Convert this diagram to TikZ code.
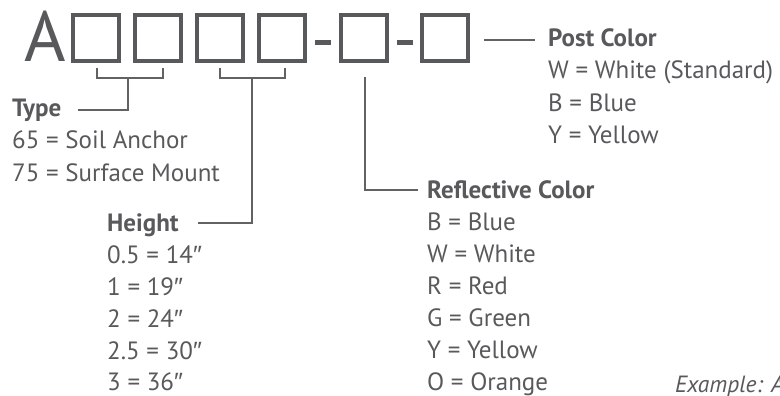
\documentclass[tikz,border=0pt]{standalone}
\usepackage{fontspec}
\setmainfont{PT Sans}
\newfontfamily\primefont{Liberation Sans}
\newcommand{\inch}{{\primefont ″}}
\definecolor{ink}{HTML}{58595B}
\definecolor{rule}{HTML}{616264}
\begin{document}
\begin{tikzpicture}[x=1pt,y=-1pt,
  sq/.style={draw=ink,line width=4pt,minimum size=46pt,inner sep=0pt},
  dashbar/.style={fill=ink,minimum width=16pt,minimum height=5pt,inner sep=0pt},
  lbl/.style={anchor=base west,inner sep=0pt,text=ink,font=\fontsize{25}{30}\selectfont},
  head/.style={lbl,font=\fontsize{25}{30}\selectfont\bfseries},
  conn/.style={draw=rule,line width=2.6pt}]
\useasboundingbox (0,0) rectangle (780,396);
% code row
\node[anchor=base west,inner sep=0pt,text=ink,font=\fontsize{71}{71}\selectfont] (A) at (24,62) {A};
\node[sq] (s1) at (96,38) {};
\node[sq] (s2) at (158,38) {};
\node[sq] (s3) at (220,38) {};
\node[sq] (s4) at (282,38) {};
\node[dashbar] (d1) at (323,42.5) {};
\node[sq] (s5) at (364,38) {};
\node[dashbar] (d2) at (405,42.5) {};
\node[sq] (s6) at (445,38) {};
% post color
\node[head] (post) at (548,47) {Post Color};
\node[lbl] (p1) at (548,79) {W = White (Standard)};
\node[lbl] (p2) at (548,111) {B = Blue};
\node[lbl] (p3) at (548,143) {Y = Yellow};
\coordinate (pl) at (484,40);
\coordinate (pr) at (535,40);
\draw[conn] (pl) -- (pr);
% type
\node[head] (type) at (12,117) {Type};
\node[lbl] (t1) at (12,149) {65 = Soil Anchor};
\node[lbl] (t2) at (12,181) {75 = Surface Mount};
\coordinate (b1a) at (97,68);
\coordinate (b1b) at (163,68);
\coordinate (b1m) at (128,78);
\coordinate (b1e) at (78,110);
\draw[conn] (b1a) |- (b1b |- b1m) -- (b1b);
\draw[conn] (b1m) |- (b1e);
% height
\node[head] (height) at (107,231) {Height};
\node[lbl] (h1) at (107,263) {0.5 = 14\inch};
\node[lbl] (h2) at (107,295) {1 = 19\inch};
\node[lbl] (h3) at (107,327) {2 = 24\inch};
\node[lbl] (h4) at (107,359) {2.5 = 30\inch};
\node[lbl] (h5) at (107,390) {3 = 36\inch};
\coordinate (b2a) at (220,68);
\coordinate (b2b) at (285,68);
\coordinate (b2m) at (252,78);
\coordinate (b2e) at (198,223);
\draw[conn] (b2a) |- (b2b |- b2m) -- (b2b);
\draw[conn] (b2m) |- (b2e);
% reflective
\node[head] (refl) at (427,198) {Reflective Color};
\node[lbl] (r1) at (427,230) {B = Blue};
\node[lbl] (r2) at (427,262) {W = White};
\node[lbl] (r3) at (427,294) {R = Red};
\node[lbl] (r4) at (427,326) {G = Green};
\node[lbl] (r5) at (427,358) {Y = Yellow};
\node[lbl] (r6) at (427,390) {O = Orange};
\coordinate (rs) at (365,77);
\coordinate (re) at (418,190);
\draw[conn] (rs) |- (re);
% example
\node[lbl,font=\fontsize{23.5}{26}\selectfont\itshape] (ex) at (675,392) {Example: A};
\end{tikzpicture}
\end{document}
